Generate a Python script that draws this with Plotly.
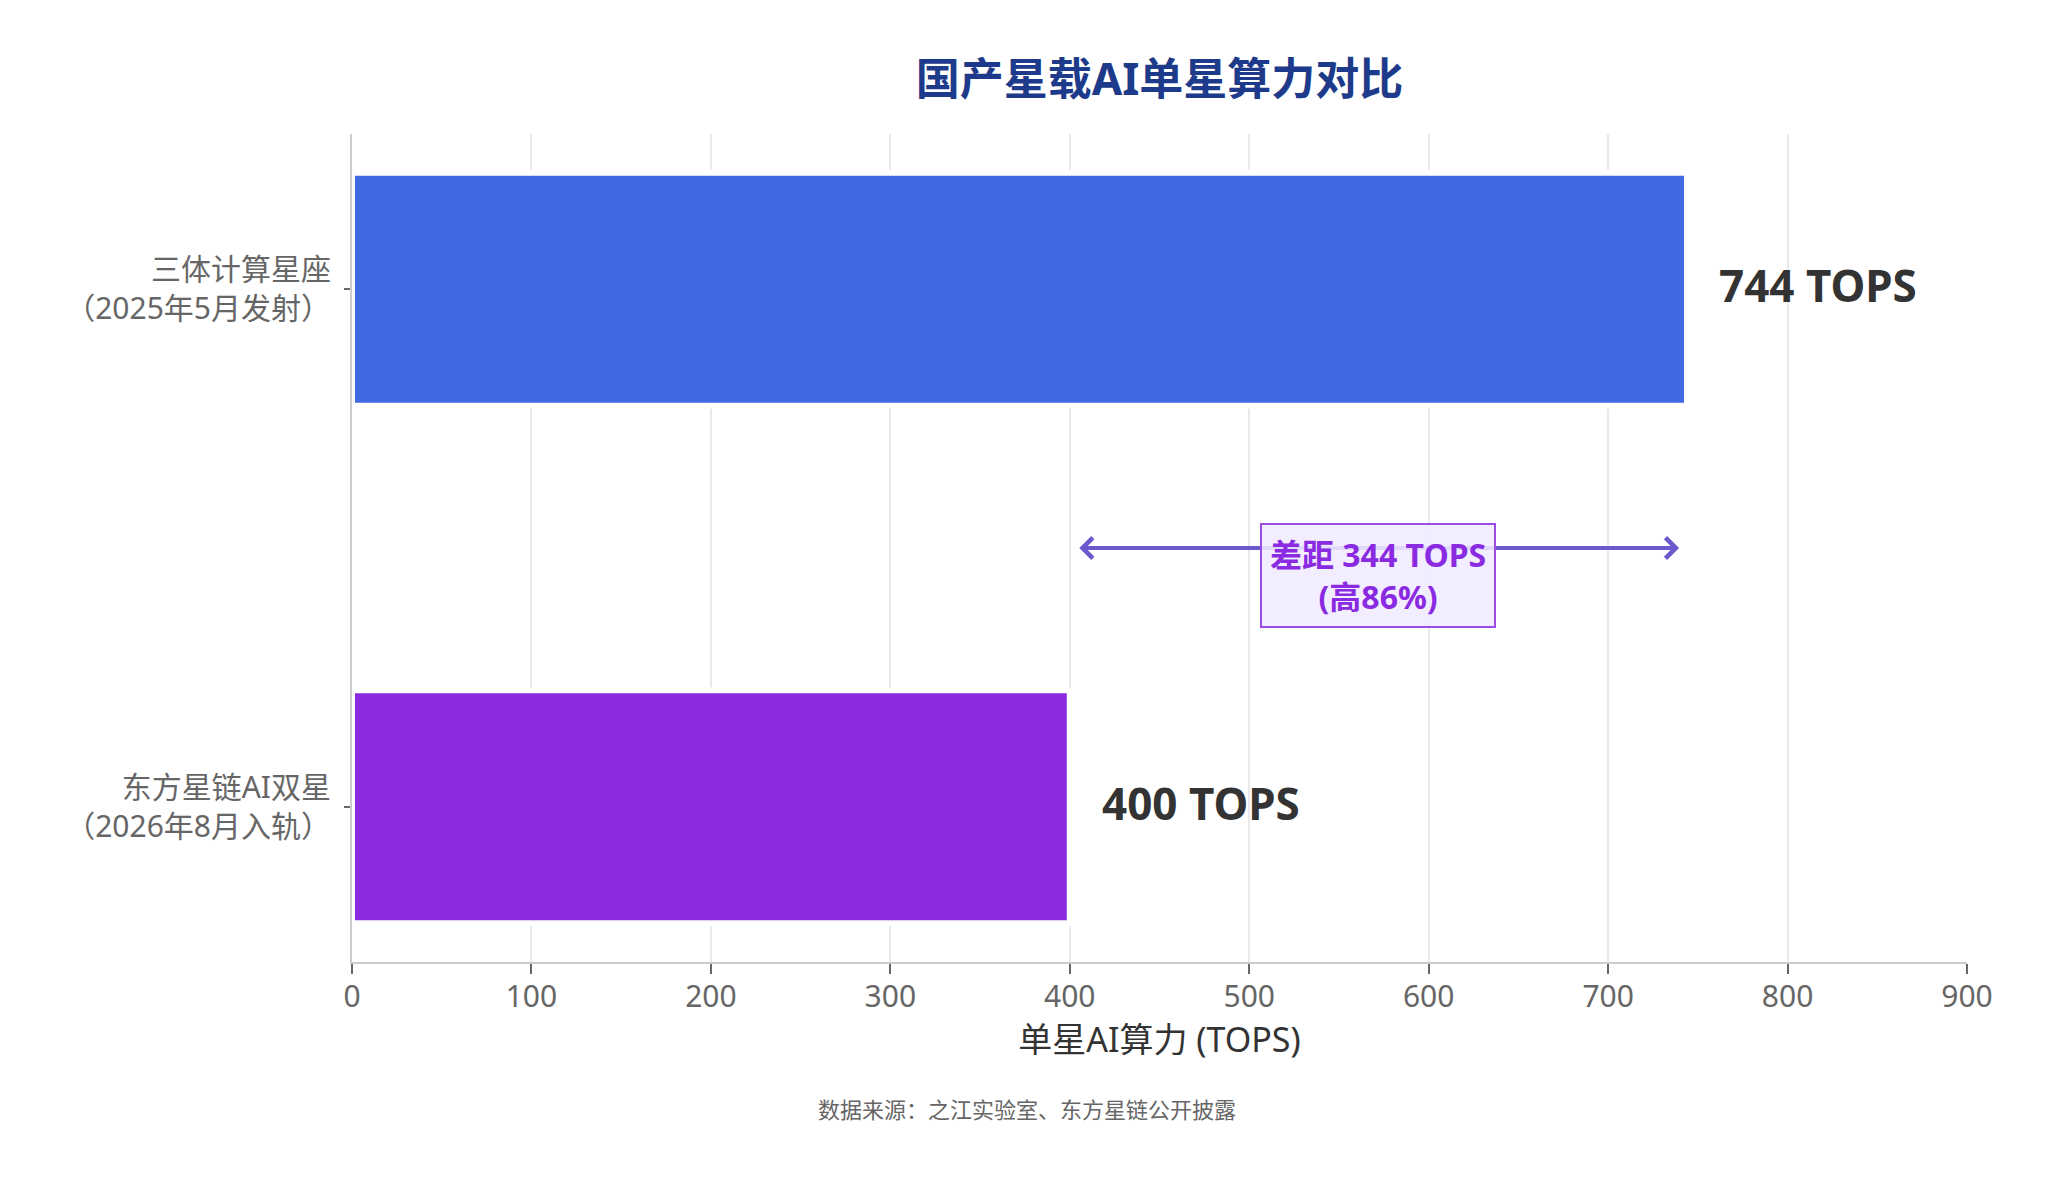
import plotly.graph_objects as go

# data
categories = ["三体计算星座<br>（2025年5月发射）", "东方星链AI双星<br>（2026年8月入轨）"]
tops = [744, 400]
bar_colors = ["#4169E1", "#8A2BE2"]
x_ticks = [0, 100, 200, 300, 400, 500, 600, 700, 800, 900]

FONT = "Noto Sans, Noto Sans CJK SC, sans-serif"

gap = tops[0] - tops[1]
pct = round(gap / tops[1] * 100)

fig = go.Figure(go.Bar(
    x=tops,
    y=categories,
    orientation="h",
    width=0.45,
    marker=dict(color=bar_colors, line=dict(color="white", width=6)),
    hoverinfo="skip",
))

# value labels right of the bars
for c, v in zip(categories, tops):
    fig.add_annotation(x=v, y=c, text=f"<b>{v} TOPS</b>", showarrow=False,
                       xanchor="left", xshift=30, yshift=4,
                       font=dict(family=FONT, size=44, color="#333333"))

# two-headed arrow showing the gap
fig.add_annotation(x=tops[0], y=0.5, ax=tops[1], ay=0.5, axref="x", ayref="y",
                   text="", showarrow=True, arrowside="end+start",
                   arrowhead=4, arrowsize=1, arrowwidth=4, arrowcolor="#6A5ACD",
                   standoff=8, startstandoff=8)
fig.add_annotation(x=(tops[0] + tops[1]) / 2, y=0.5, yshift=-27,
                   text=f"<b>差距 {gap} TOPS<br>(高{pct}%)</b>", showarrow=False,
                   font=dict(family=FONT, size=32, color="#8A2BE2"),
                   bgcolor="rgba(240,235,255,0.88)", bordercolor="#9B4DE3",
                   borderwidth=2, borderpad=8)

# source note, centred on the whole figure
fig.add_annotation(x=0.418, xref="paper", y=-0.177, yref="paper", yanchor="middle",
                   text="数据来源：之江实验室、东方星链公开披露", showarrow=False,
                   font=dict(family=FONT, size=22, color="#666666"))

fig.update_layout(
    width=2054, height=1181,
    margin=dict(l=344, r=95, t=126, b=227),
    paper_bgcolor="white", plot_bgcolor="white",
    showlegend=False,
    title=dict(text="<b>国产星载AI单星算力对比</b>", x=0.5, xref="paper", xanchor="center",
               y=1 - 72 / 1181, yref="container", yanchor="middle",
               font=dict(family=FONT, size=44, color="#1E3A8A")),
    font=dict(family=FONT),
)
fig.update_xaxes(
    range=[0, 900], tickvals=x_ticks,
    showgrid=True, gridcolor="#E8E8EE", gridwidth=2, zeroline=False,
    showline=True, linecolor="#CCCCCC", linewidth=2,
    ticks="outside", ticklen=10, tickwidth=2, tickcolor="#666666",
    ticklabelstandoff=-3,
    tickfont=dict(family=FONT, size=30, color="#666666"),
    title=dict(text="单星AI算力 (TOPS)", standoff=8,
               font=dict(family=FONT, size=34, color="#333333")),
    automargin=False,
)
fig.update_yaxes(
    type="category", categoryorder="array", categoryarray=categories,
    range=[1.3, -0.3], showgrid=False, zeroline=False,
    showline=True, linecolor="#CCCCCC", linewidth=2,
    ticks="outside", ticklen=6, tickwidth=2, tickcolor="#666666",
    ticklabelstandoff=7,
    tickfont=dict(family=FONT, size=30, color="#666666"),
    automargin=False,
)

fig.write_html("out.html")
